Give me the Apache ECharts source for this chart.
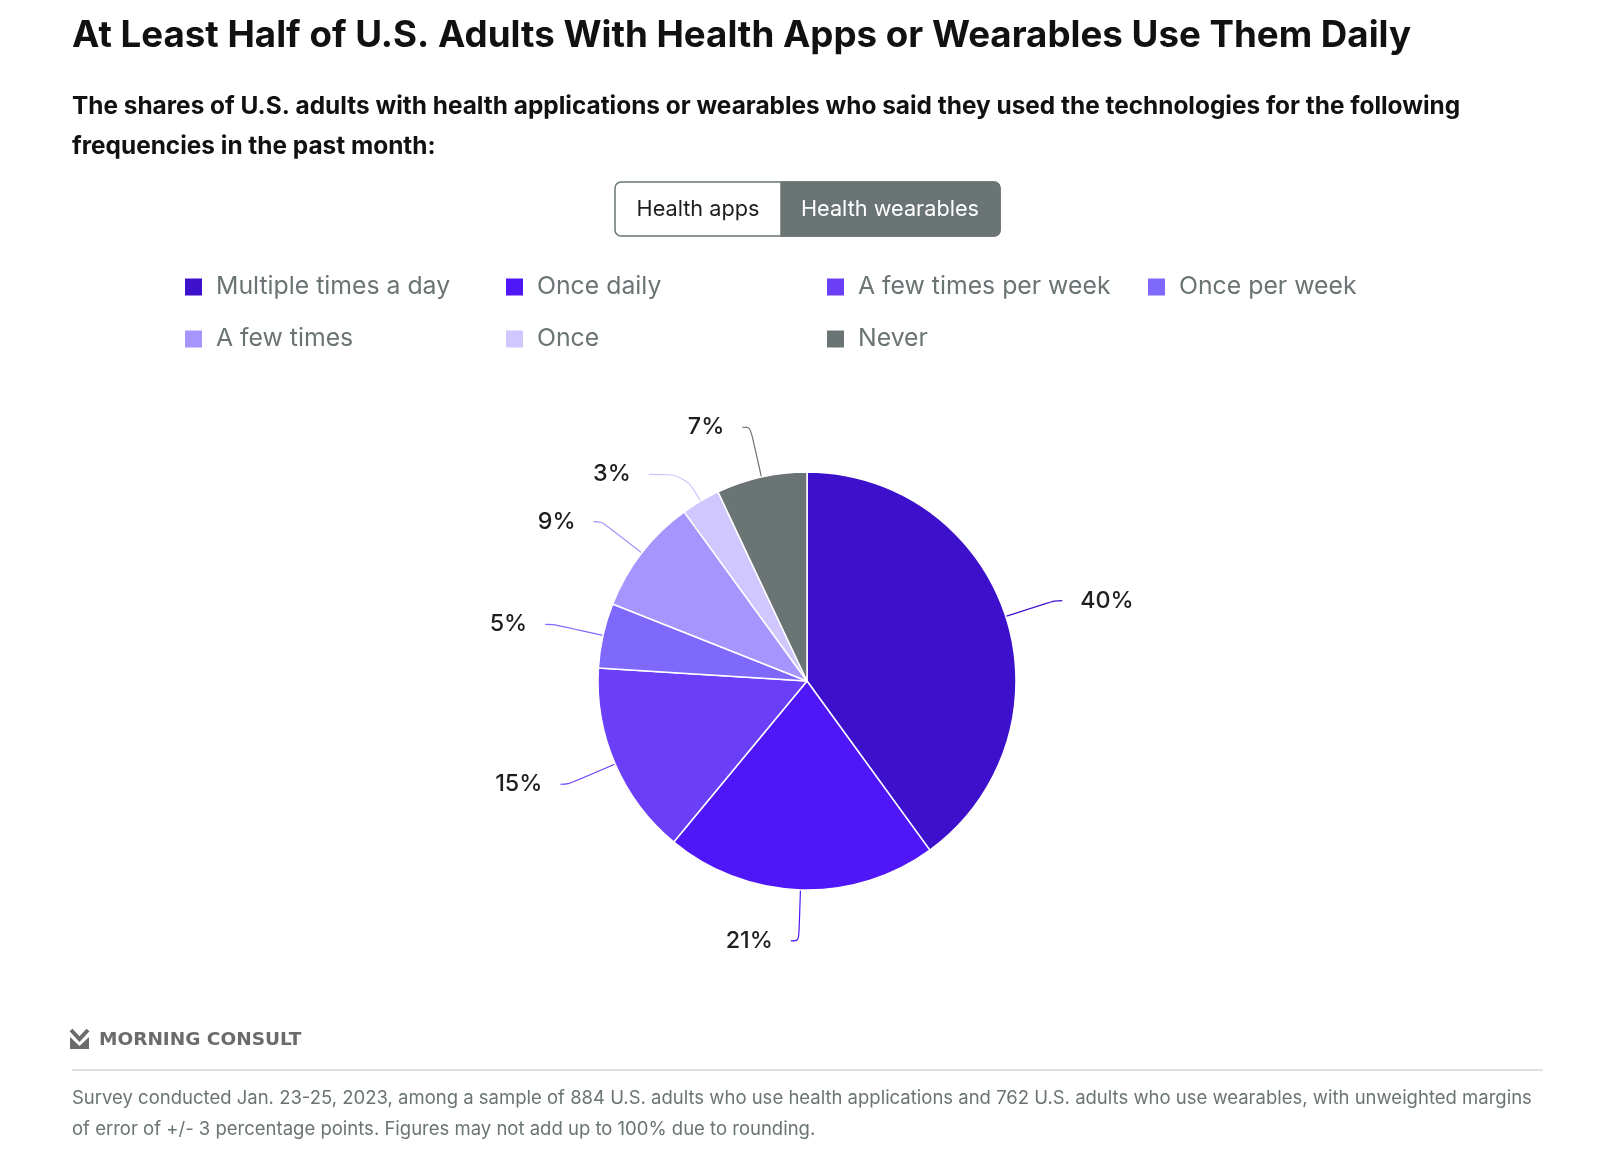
<!DOCTYPE html>
<html>
<head>
<meta charset="utf-8">
<script src="https://cdn.jsdelivr.net/npm/echarts@6/dist/echarts.min.js"></script>
<style>
  html, body { margin: 0; padding: 0; background: #fff; }
  #chart { width: 1600px; height: 1173px; }
</style>
</head>
<body>
<div id="chart"></div>
<script>
const categories = ['Multiple times a day', 'Once daily', 'A few times per week', 'Once per week', 'A few times', 'Once', 'Never'];
const wearableShares = [40, 21, 15, 5, 9, 3, 7];
const sliceColors = ['#3d10cc', '#4f16f7', '#6b3ef7', '#7f69fc', '#a595fd', '#cfc7fd', '#6b7474'];
const toggleLabels = ['Health apps', 'Health wearables'];

const titleText = 'At Least Half of U.S. Adults With Health Apps or Wearables Use Them Daily';
const subtitleText = 'The shares of U.S. adults with health applications or wearables who said they used the technologies for the following\nfrequencies in the past month:';
const footnoteText = 'Survey conducted Jan. 23-25, 2023, among a sample of 884 U.S. adults who use health applications and 762 U.S. adults who use wearables, with unweighted margins\nof error of +/- 3 percentage points. Figures may not add up to 100% due to rounding.';

const FONT = 'Inter, Lato, "Noto Sans", sans-serif';
const chart = echarts.init(document.getElementById('chart'), null, { renderer: 'canvas' });

const pieData = categories.map((c, i) => {
  const d = {
    name: c,
    value: wearableShares[i],
    itemStyle: { color: sliceColors[i] },
    labelLine: { lineStyle: { color: sliceColors[i] } }
  };
  if (c === 'Once') { d.labelLine.length = 31; d.labelLine.length2 = 36; }
  return d;
});

chart.setOption({
  animation: false,
  backgroundColor: '#fff',
  title: [
    {
      text: titleText, left: 72, top: 14, padding: 0,
      textStyle: { fontFamily: FONT, fontSize: 36.7, fontWeight: 'bold', color: '#111', lineHeight: 44 }
    },
    {
      text: subtitleText, left: 72, top: 87, padding: 0,
      textStyle: { fontFamily: FONT, fontSize: 24.4, fontWeight: 'bold', color: '#111', lineHeight: 40 }
    },
    {
      text: footnoteText, left: 72, top: 1083, padding: 0,
      textStyle: { fontFamily: FONT, fontSize: 18.5, fontWeight: 'normal', color: '#6b7474', lineHeight: 31 }
    }
  ],
  legend: {
    data: categories,
    left: 183, top: 268, width: 1275, padding: 0,
    orient: 'horizontal',
    itemWidth: 19, itemHeight: 19, itemGap: 14,
    icon: 'rect',
    selectedMode: false,
    textStyle: {
      fontFamily: FONT, fontSize: 24.8, color: '#6b7474',
      width: 274, lineHeight: 38, padding: [0, 0, 0, 8], overflow: 'none'
    }
  },
  series: [{
    type: 'pie',
    center: [807, 681],
    radius: [0, 209],
    startAngle: 90,
    clockwise: true,
    data: pieData,
    itemStyle: { borderColor: '#fff', borderWidth: 1.5 },
    emphasis: { disabled: true },
    label: {
      show: true,
      position: 'outside',
      formatter: '{c}%',
      distanceToLabelLine: 18,
      fontFamily: FONT, fontSize: 23.3, fontWeight: 500, color: '#1e1e1e'
    },
    labelLine: { show: true, length: 51, length2: 8, smooth: 0.35, lineStyle: { width: 1.2 } }
  }],
  graphic: [
    { type: 'rect', shape: { x: 615, y: 182, width: 385, height: 54, r: 6 },
      style: { fill: '#fff', stroke: '#6b7474', lineWidth: 1.5 } },
    { type: 'rect', shape: { x: 781, y: 182, width: 219, height: 54, r: [0, 6, 6, 0] },
      style: { fill: '#6b7474', stroke: '#6b7474', lineWidth: 1.5 } },
    { type: 'text', x: 698, y: 209,
      style: { text: toggleLabels[0], fontFamily: FONT, fontSize: 21.7, fill: '#1e1e1e', align: 'center', verticalAlign: 'middle' } },
    { type: 'text', x: 890, y: 209,
      style: { text: toggleLabels[1], fontFamily: FONT, fontSize: 21.7, fill: '#fff', align: 'center', verticalAlign: 'middle' } },
    { type: 'polyline', shape: { points: [[71, 1030], [79.5, 1039], [88, 1030]] },
      style: { stroke: '#6b6b6b', lineWidth: 4, fill: null } },
    { type: 'polygon', shape: { points: [[70, 1037], [79.5, 1046], [89, 1037], [89, 1049], [70, 1049]] },
      style: { fill: '#6b6b6b' } },
    { type: 'text', x: 99, y: 1040,
      style: { text: 'MORNING CONSULT', fontFamily: '"DejaVu Sans", sans-serif', fontWeight: 'bold', fontSize: 18.5, fill: '#6b6b6b', verticalAlign: 'middle' } },
    { type: 'line', shape: { x1: 72, y1: 1070, x2: 1543, y2: 1070 },
      style: { stroke: '#d6d6d6', lineWidth: 1.5 } }
  ]
});
</script>
</body>
</html>
